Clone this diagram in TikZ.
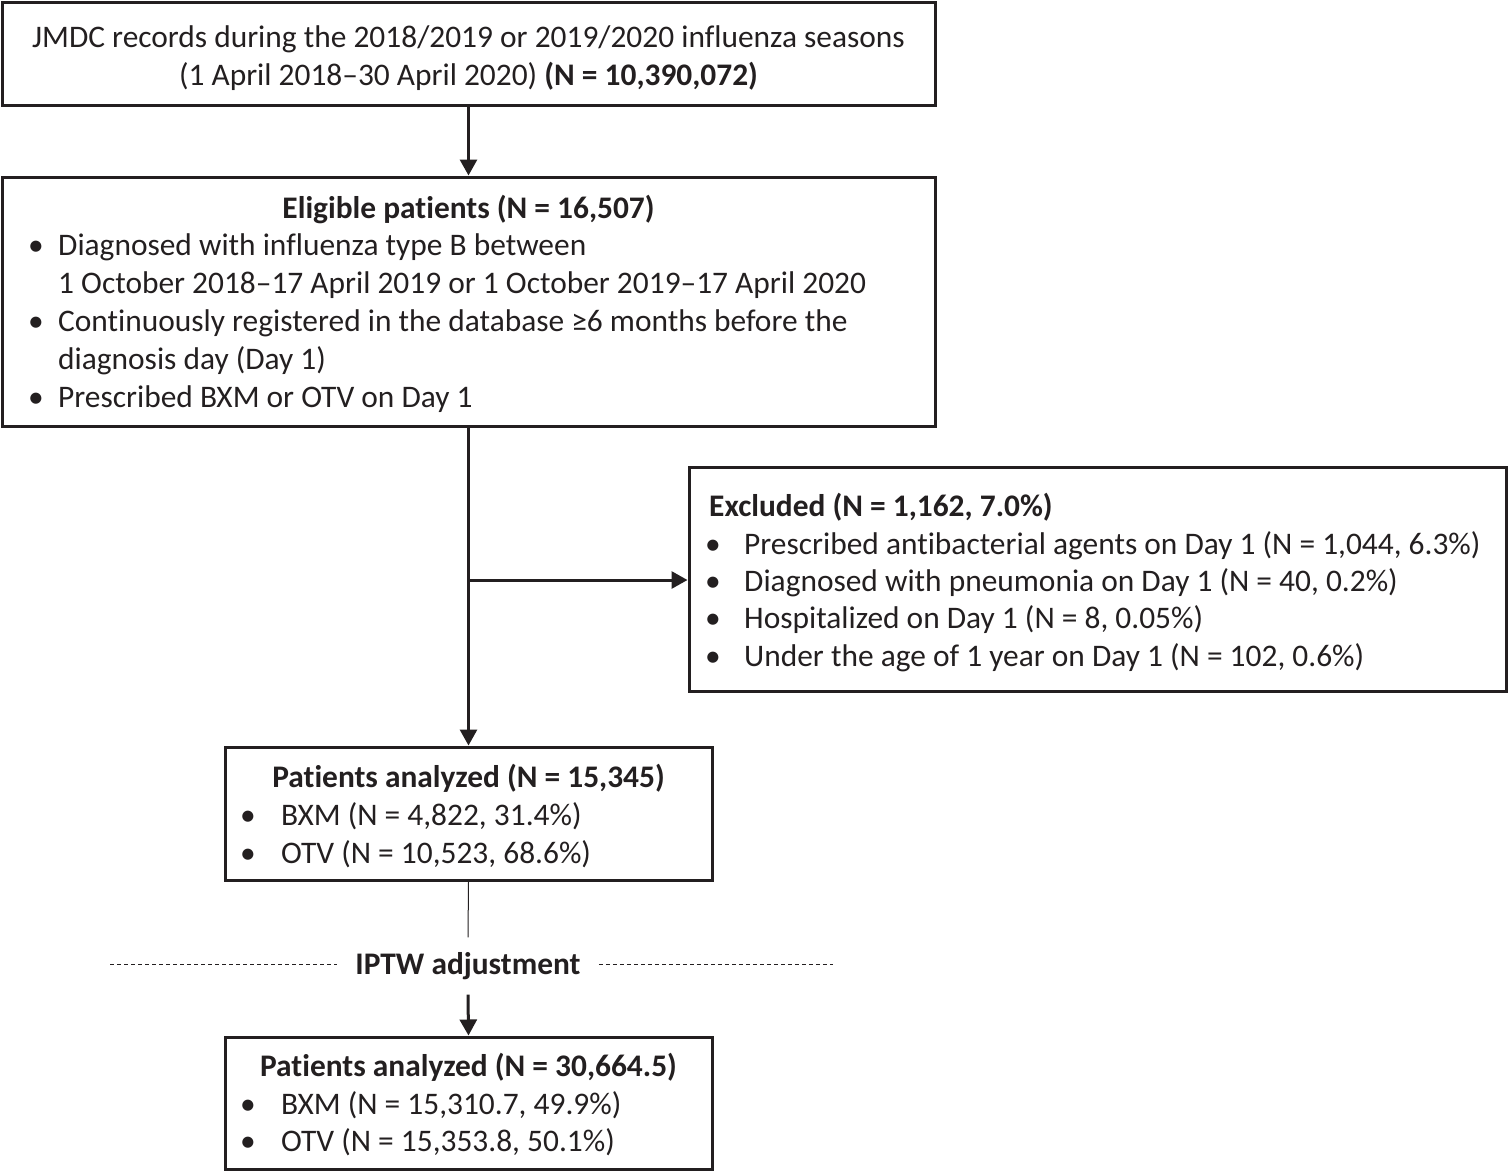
\documentclass[tikz,border=0pt]{standalone}
\usepackage{fontspec}
\setmainfont{Carlito}[RawFeature={-liga;-calt;-clig;-dlig}]
\usetikzlibrary{arrows.meta}
\definecolor{ink}{HTML}{231F20}
\begin{document}
\begin{tikzpicture}[x=1pt,y=-1pt,
  every node/.style={font=\fontsize{31.4}{38}\selectfont, text=ink, inner sep=0pt},
  box/.style={draw=ink, line width=3pt, rectangle},
  arr/.style={draw=ink, line width=3pt, -{Triangle[length=16pt,width=17pt]}},
  thinline/.style={draw=ink, line width=1pt},
  dashline/.style={draw=ink, line width=1pt, dash pattern=on 4pt off 3pt},
  tl/.style={anchor=base},
  tw/.style={anchor=base west},
  bul/.style={anchor=base}]
\useasboundingbox (0,0) rectangle (1509,1171);
% boxes
\node[box, minimum width=933pt, minimum height=103pt] (b1) at (468.5,53.5) {};
\node[box, minimum width=933pt, minimum height=249pt] (b2) at (468.5,301.5) {};
\node[box, minimum width=817pt, minimum height=224pt] (b3) at (1097.5,579) {};
\node[box, minimum width=487pt, minimum height=133pt] (b4) at (468.5,813.5) {};
\node[box, minimum width=487pt, minimum height=132pt] (b5) at (468.5,1103) {};
% box 1 text
\node[tl] (t1a) at (468.5,47) {JMDC records during the 2018/2019 or 2019/2020 influenza seasons};
\node[tl] (t1b) at (468.5,85) {(1 April 2018--30 April 2020) \textbf{(N = 10,390,072)}};
% box 2 text
\node[tl] (t2t) at (468.5,218) {\textbf{Eligible patients (N = 16,507)}};
\node[bul] (t2b1) at (36,255) {•};
\node[tw] (t2a) at (58,255) {Diagnosed with influenza type B between};
\node[tw] (t2c) at (58,293) {1 October 2018--17 April 2019 or 1 October 2019--17 April 2020};
\node[bul] (t2b2) at (36,331) {•};
\node[tw] (t2d) at (58,331) {Continuously registered in the database ≥6 months before the};
\node[tw] (t2e) at (58,369) {diagnosis day (Day 1)};
\node[bul] (t2b3) at (36,407) {•};
\node[tw] (t2f) at (58,407) {Prescribed BXM or OTV on Day 1};
% box 3 text
\node[tw] (t3t) at (709,516) {\textbf{Excluded (N = 1,162, 7.0\%)}};
\node[bul] (t3b1) at (713,554) {•};
\node[tw] (t3a) at (744,554) {Prescribed antibacterial agents on Day 1 (N = 1,044, 6.3\%)};
\node[bul] (t3b2) at (713,591) {•};
\node[tw] (t3b) at (744,591) {Diagnosed with pneumonia on Day 1 (N = 40, 0.2\%)};
\node[bul] (t3b3) at (713,628) {•};
\node[tw] (t3c) at (744,628) {Hospitalized on Day 1 (N = 8, 0.05\%)};
\node[bul] (t3b4) at (713,666) {•};
\node[tw] (t3d) at (744,666) {Under the age of 1 year on Day 1 (N = 102, 0.6\%)};
% box 4 text
\node[tl] (t4t) at (468.5,787) {\textbf{Patients analyzed (N = 15,345)}};
\node[bul] (t4b1) at (248,825) {•};
\node[tw] (t4a) at (281,825) {BXM (N = 4,822, 31.4\%)};
\node[bul] (t4b2) at (248,863) {•};
\node[tw] (t4b) at (281,863) {OTV (N = 10,523, 68.6\%)};
% box 5 text
\node[tl] (t5t) at (468.5,1076) {\textbf{Patients analyzed (N = 30,664.5)}};
\node[bul] (t5b1) at (248,1114) {•};
\node[tw] (t5a) at (281,1114) {BXM (N = 15,310.7, 49.9\%)};
\node[bul] (t5b2) at (248,1151) {•};
\node[tw] (t5b) at (281,1151) {OTV (N = 15,353.8, 50.1\%)};
% IPTW
\node[minimum height=57pt, inner xsep=18pt, font=\fontsize{31.4}{38}\selectfont\bfseries] (iptw) at (468,966) {IPTW adjustment};
\coordinate (dl) at (110,964);
\coordinate (dr) at (833,964);
% connectors
\draw[arr] (b1.south) -- (b2.north);
\draw[arr] (b2.south) -- (b4.north);
\coordinate (j) at (468.5,580);
\draw[arr] (j) -- (j -| b3.west);
\draw[thinline] (b4.south) -- (iptw.north);
\draw[arr] (iptw.south) -- (b5.north);
\draw[dashline] (dl) -- (dl -| iptw.west);
\draw[dashline] (dr -| iptw.east) -- (dr);
\end{tikzpicture}
\end{document}
